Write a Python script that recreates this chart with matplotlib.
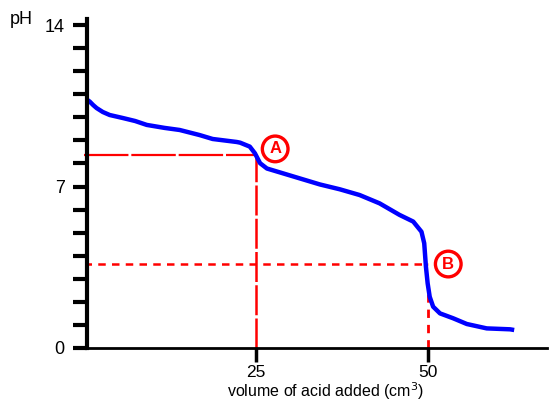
import numpy as np
import matplotlib
matplotlib.use('Agg')
from matplotlib import pyplot as plt

# titration curve (volume in cm3, pH)
volume = [0.0, 0.8, 1.3, 1.8, 2.7, 3.7, 5.6, 7.4, 9.1, 11.7, 13.9, 16.8, 18.7, 22.2,
          22.7, 24.1, 24.85, 25.6, 26.6, 28.5, 31.4, 34.3, 37.2, 40.1, 43.0, 45.9,
          47.9, 49.1, 49.5, 49.75, 50.0, 50.3, 50.8, 51.8, 53.7, 55.7, 58.6, 62.0, 62.6]
ph = [10.85, 10.68, 10.53, 10.40, 10.23, 10.10, 9.97, 9.84, 9.67, 9.54, 9.45, 9.23,
      9.06, 8.93, 8.90, 8.73, 8.44, 8.01, 7.78, 7.61, 7.35, 7.09, 6.88, 6.63, 6.27,
      5.77, 5.48, 5.04, 4.54, 3.52, 2.80, 2.22, 1.79, 1.50, 1.29, 1.04, 0.85, 0.81, 0.78]

half_eq = (25, 8.37)   # point A
equiv = (50, 3.64)     # point B
equiv_curve_ph = 2.6   # where the vertical at 50 meets the curve
ytick_labels = {0: '0', 7: '7', 14: '14'}
xtick_labels = [25, 50]

W, H = 549, 403
fig = plt.figure(figsize=(W/100, H/100), dpi=100)
ax = fig.add_axes([87/W, (H-348)/H, (547-87)/W, (348-19)/H])
ax.set_xlim(0.4, 0.4 + (547-87)/6.868)
ax.set_ylim(0, (348-19)/23.07)

for s in ['top', 'right']:
    ax.spines[s].set_visible(False)
ax.spines['left'].set_linewidth(3)
ax.spines['bottom'].set_linewidth(2)

ax.set_yticks(range(15))
ax.set_yticklabels([ytick_labels.get(i, '') for i in range(15)],
                   fontsize=13, family='Liberation Sans')
ax.tick_params(axis='y', length=10, width=3, pad=6)
ax.set_xticks(xtick_labels)
ax.set_xticklabels([str(v) for v in xtick_labels], fontsize=12.5, family='Liberation Sans')
ax.tick_params(axis='x', length=10, width=2.5, pad=2)

# guide lines
ax.plot([0, half_eq[0]], [half_eq[1], half_eq[1]], color='red', lw=1.6,
        dashes=(20, 1.3), clip_on=False)
ax.plot([half_eq[0], half_eq[0]], [0, half_eq[1]], color='red', lw=1.8,
        dashes=(12, 1.3))
ax.plot([0, equiv[0]], [equiv[1], equiv[1]], color='red', lw=1.8, dashes=(3, 2.5))
ax.plot([equiv[0], equiv[0]], [0, equiv_curve_ph], color='red', lw=2, dashes=(3, 2.5))

ax.plot(volume, ph, color='blue', lw=3.2, solid_capstyle='butt')

# circled labels
for lab, (x, y) in [('A', (27.8, 8.63)), ('B', (53.0, 3.64))]:
    ax.text(x, y, lab, color='red', fontsize=12, fontweight='bold', ha='center',
            va='center', family='Liberation Sans',
            bbox=dict(boxstyle='circle,pad=0.32', fc='white', ec='red', lw=2.4))

fig.text(21/W, 1-20/H, 'pH', fontsize=13, ha='center', va='center', family='Liberation Sans')
fig.text(326/W, 1-391/H, 'volume of acid added (cm$^3$)', fontsize=11.5, ha='center',
         va='center', family='Liberation Sans')

fig.savefig('out.png', dpi=100)
